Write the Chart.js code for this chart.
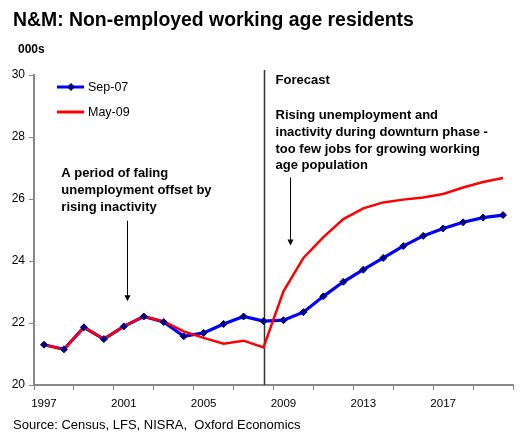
<!DOCTYPE html>
<html>
<head>
<meta charset="utf-8">
<script src="https://cdn.jsdelivr.net/npm/chart.js@4.4.1/dist/chart.umd.min.js"></script>
<style>
  html, body { margin: 0; padding: 0; background: #fff; }
  #wrap { width: 523px; height: 432px; position: relative; }
</style>
</head>
<body>
<div id="wrap"><canvas id="myChart" width="523" height="432"></canvas></div>
<script>
const years = ["1997", "1998", "1999", "2000", "2001", "2002", "2003", "2004",
  "2005", "2006", "2007", "2008", "2009", "2010", "2011", "2012", "2013",
  "2014", "2015", "2016", "2017", "2018", "2019", "2020"];

// thousands of residents
const sep07 = [21.30, 21.15, 21.86, 21.48, 21.89, 22.21, 22.03, 21.57,
  21.68, 21.97, 22.21, 22.06, 22.09, 22.35, 22.86, 23.33, 23.72,
  24.10, 24.48, 24.81, 25.05, 25.25, 25.40, 25.48];
const may09 = [21.30, 21.15, 21.86, 21.48, 21.89, 22.21, 22.05, 21.73,
  21.52, 21.33, 21.43, 21.21, 23.02, 24.10, 24.77, 25.35, 25.70,
  25.89, 25.98, 26.05, 26.16, 26.37, 26.55, 26.68];

const yMin = 20;
const yMax = 30;
const yStep = 2;
const forecastYear = "2008";

const FONT = '"Liberation Sans", Arial, sans-serif';
const AXIS_GREY = "#888888";

// text, legend, forecast marker and arrows
const overlay = {
  id: "overlay",
  beforeDatasetsDraw(chart) {
    const { ctx, chartArea, scales: { x } } = chart;
    const fx = Math.round(x.getPixelForValue(years.indexOf(forecastYear))) + 0.5;
    ctx.save();
    ctx.strokeStyle = "#333";
    ctx.lineWidth = 1.5;
    ctx.beginPath();
    ctx.moveTo(fx, chartArea.top - 5);
    ctx.lineTo(fx, chartArea.bottom);
    ctx.stroke();
    ctx.restore();
  },
  afterDraw(chart) {
    const { ctx, chartArea, scales: { x, y } } = chart;
    ctx.save();
    ctx.fillStyle = "#000";

    ctx.font = "bold 19.4px " + FONT;
    ctx.fillText("N&M: Non-employed working age residents", 13, 26);

    ctx.font = "bold 12px " + FONT;
    ctx.fillText("000s", 18, 53);

    ctx.font = "13px " + FONT;
    ctx.fillText("Source: Census, LFS, NISRA,  Oxford Economics", 13, 429);

    // legend
    const items = [
      { label: "Sep-07", color: "#0000ff", marker: true, y: 87 },
      { label: "May-09", color: "#ff0000", marker: false, y: 112 }
    ];
    const lx = chartArea.left + 23;
    items.forEach(it => {
      ctx.strokeStyle = it.color;
      ctx.lineWidth = 3;
      ctx.beginPath();
      ctx.moveTo(lx, it.y);
      ctx.lineTo(lx + 27, it.y);
      ctx.stroke();
      if (it.marker) {
        ctx.fillStyle = "#000080";
        ctx.beginPath();
        const cx = lx + 14;
        ctx.moveTo(cx, it.y - 4);
        ctx.lineTo(cx + 4, it.y);
        ctx.lineTo(cx, it.y + 4);
        ctx.lineTo(cx - 4, it.y);
        ctx.closePath();
        ctx.fill();
      }
      ctx.fillStyle = "#000";
      ctx.font = "12.5px " + FONT;
      ctx.textBaseline = "middle";
      ctx.fillText(it.label, lx + 31, it.y + 1);
    });
    ctx.textBaseline = "alphabetic";

    // left note
    ctx.font = "bold 13px " + FONT;
    const n1x = x.getPixelForValue(0.87);
    const n1y = y.getPixelForValue(26.85) + 4;
    ["A period of faling", "unemployment offset by", "rising inactivity"]
      .forEach((t, i) => ctx.fillText(t, n1x, n1y + i * 17));

    // forecast note
    const n2x = x.getPixelForValue(years.indexOf(forecastYear)) + 12;
    ctx.fillText("Forecast", n2x, chartArea.top + 9);
    ["Rising unemployment and", "inactivity during downturn phase -",
      "too few jobs for growing working", "age population"]
      .forEach((t, i) => ctx.fillText(t, n2x, chartArea.top + 44 + i * 16.8));

    // arrows
    const arrow = (ax, y0, y1) => {
      ax = Math.round(ax) + 0.5;
      ctx.strokeStyle = "#000";
      ctx.fillStyle = "#000";
      ctx.lineWidth = 1;
      ctx.beginPath();
      ctx.moveTo(ax, y0);
      ctx.lineTo(ax, y1 - 5);
      ctx.stroke();
      ctx.beginPath();
      ctx.moveTo(ax - 3, y1 - 6);
      ctx.lineTo(ax + 3, y1 - 6);
      ctx.lineTo(ax, y1);
      ctx.closePath();
      ctx.fill();
    };
    arrow(x.getPixelForValue(4.18), y.getPixelForValue(25.3), y.getPixelForValue(22.7));
    arrow(x.getPixelForValue(12.33), y.getPixelForValue(26.7), y.getPixelForValue(24.5));

    ctx.restore();
  }
};

const data = {
  labels: years,
  datasets: [
    {
      label: "Sep-07 markers",
      data: sep07,
      showLine: false,
      pointStyle: "rectRot",
      pointRadius: 3.5,
      pointBackgroundColor: "#000080",
      pointBorderColor: "#000080",
      pointBorderWidth: 1,
      order: 0
    },
    {
      label: "May-09",
      data: may09,
      borderColor: "#ff0000",
      borderWidth: 2.5,
      pointRadius: 0,
      tension: 0,
      order: 1
    },
    {
      label: "Sep-07",
      data: sep07,
      borderColor: "#0000ff",
      borderWidth: 3.2,
      pointRadius: 0,
      tension: 0,
      order: 2
    }
  ]
};

const config = {
  type: "line",
  data: data,
  options: {
    responsive: false,
    animation: false,
    devicePixelRatio: 1,
    layout: { padding: { top: 75, right: 10, left: 0, bottom: 0 } },
    plugins: {
      legend: { display: false },
      tooltip: { enabled: false }
    },
    scales: {
      x: {
        offset: true,
        grid: {
          offset: true,
          drawOnChartArea: false,
          tickLength: 5,
          tickColor: c => (c.index === undefined || c.index % 2 === 0) ? AXIS_GREY : "rgba(0,0,0,0)"
        },
        border: { color: AXIS_GREY, width: 2 },
        ticks: {
          autoSkip: false,
          maxRotation: 0,
          padding: 7,
          color: "#000",
          font: { family: FONT, size: 11.5 },
          callback: (v, i) => (i % 4 === 0 ? years[i] : "")
        },
        afterFit: s => { s.height = 47; }
      },
      y: {
        min: yMin,
        max: yMax,
        grid: { drawOnChartArea: false, tickLength: 5, tickColor: AXIS_GREY },
        border: { color: AXIS_GREY, width: 2 },
        ticks: {
          stepSize: yStep,
          padding: 4,
          color: "#000",
          font: { family: FONT, size: 12 }
        },
        afterFit: s => { s.width = 34; }
      }
    }
  },
  plugins: [overlay]
};

const myChart = new Chart(document.getElementById("myChart").getContext("2d"), config);
</script>
</body>
</html>
